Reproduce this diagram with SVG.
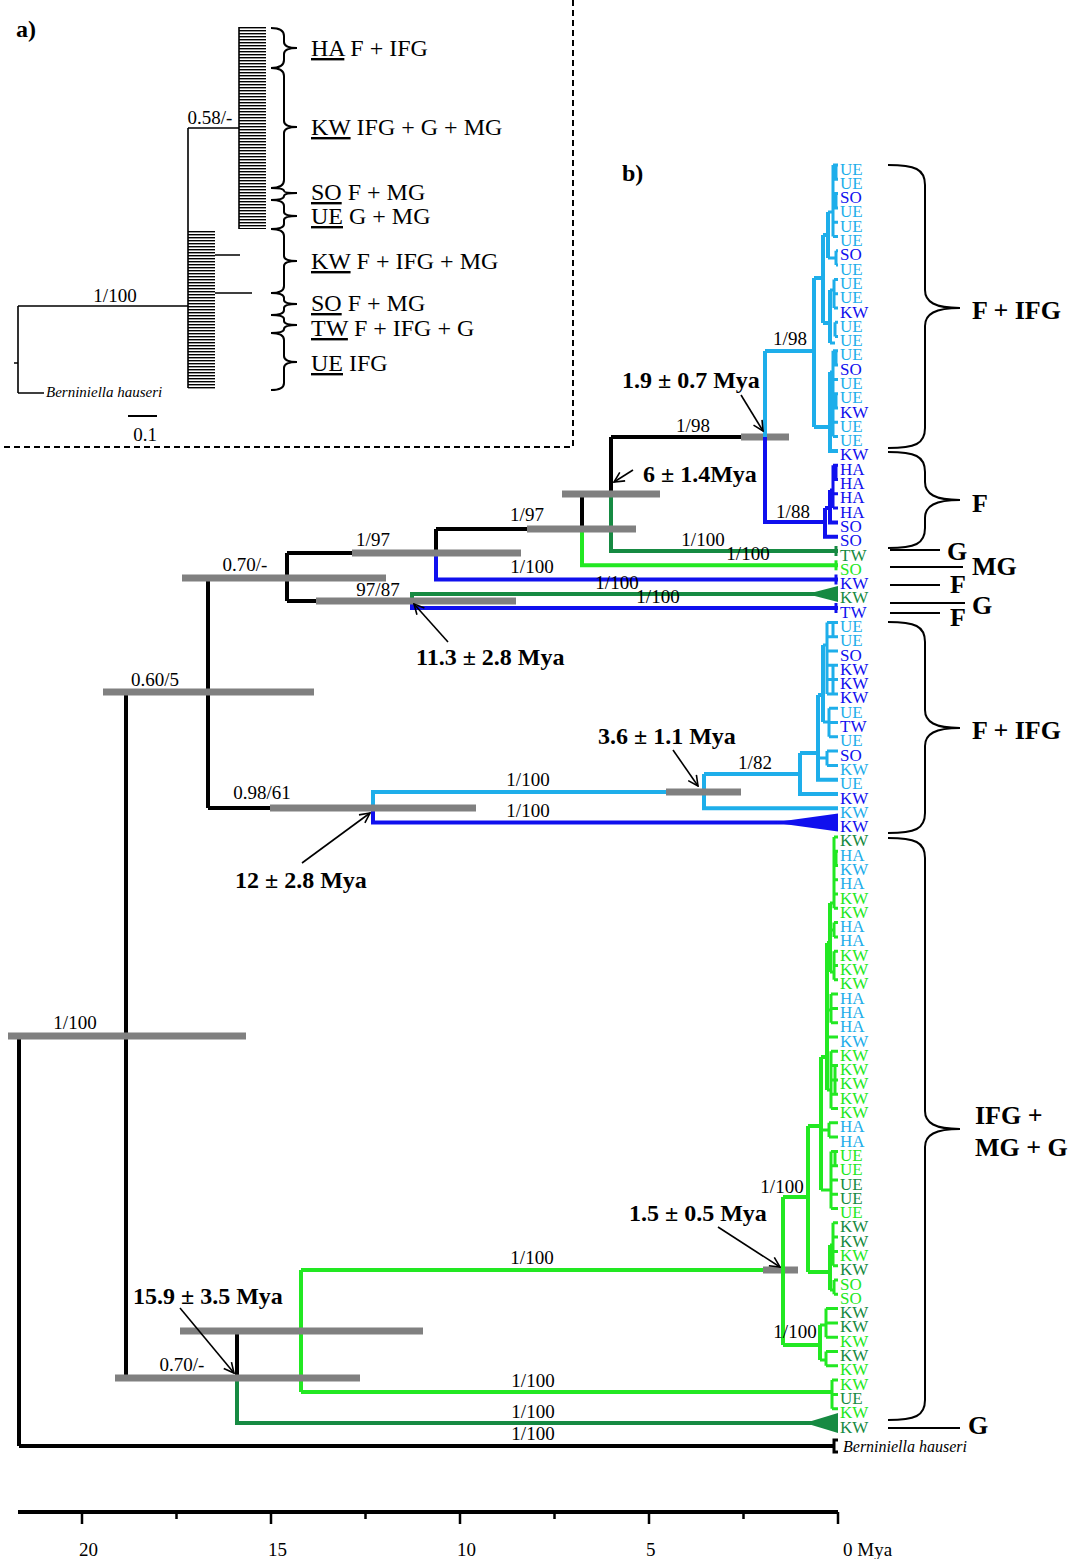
<svg xmlns="http://www.w3.org/2000/svg" width="1072" height="1559" viewBox="0 0 1072 1559">
<defs>
<style>
.br{fill:none;stroke-width:4}
.fn{fill:none;stroke-width:3}
.k{stroke:#000}.lb{stroke:#1eaeea}.bl{stroke:#1010ee}.dg{stroke:#168a42}.bg{stroke:#22e822}
.bar{stroke:#808080;stroke-width:7;fill:none}
.thin{fill:none;stroke:#000;stroke-width:1.6}
.brace{fill:none;stroke:#000;stroke-width:2}
.s{font-family:"Liberation Serif",serif;font-size:19px;text-anchor:middle;fill:#000}
.ax{font-family:"Liberation Serif",serif;font-size:19px;fill:#000}
.tip{font-family:"Liberation Serif",serif;font-size:17px}
.d{font-family:"Liberation Serif",serif;font-size:24px;font-weight:bold;fill:#000}
.g{font-family:"Liberation Serif",serif;font-size:26px;font-weight:bold;fill:#000}
.pa{font-family:"Liberation Serif",serif;font-size:24px;fill:#000}
.it{font-family:"Liberation Serif",serif;font-size:15px;font-style:italic;fill:#000}
.fl{fill:#1eaeea}.fb{fill:#1010ee}.fd{fill:#168a42}.fg{fill:#22e822}
.arr{fill:none;stroke:#000;stroke-width:1.6}
</style>
<pattern id="comb" width="4" height="3" patternUnits="userSpaceOnUse"><rect width="4" height="1.4" fill="#000"/></pattern>
<marker id="ah" viewBox="0 0 12 12" refX="11" refY="6" markerWidth="12" markerHeight="12" markerUnits="userSpaceOnUse" orient="auto"><path d="M1,1 L11,6 L1,11" fill="none" stroke="#000" stroke-width="1.6"/></marker>
</defs>
<rect width="1072" height="1559" fill="#fff"/>

<!-- Panel a -->
<g id="panel-a">
<path d="M573,0 V447 H0" fill="none" stroke="#000" stroke-width="2" stroke-dasharray="6 4"/>
<text class="d" x="16" y="37">a)</text>
<path class="thin" d="M14,363 H18 M18,306 V393 M18,306 H188 M18,393 H44 M188,128 V388 M188,128 H239 M215,255 H240 M215,293 H252"/>
<rect x="239" y="27" width="27" height="202" fill="url(#comb)"/>
<path class="thin" d="M239,27 V229"/>
<rect x="188" y="231" width="27" height="158" fill="url(#comb)"/>
<text class="s" x="115" y="302">1/100</text>
<text class="s" x="210" y="124">0.58/-</text>
<text class="it" x="46" y="397">Berniniella hauseri</text>
<path d="M128,416 H157" stroke="#000" stroke-width="2"/>
<text class="s" x="145" y="441">0.1</text>
<g id="a-braces">
<path class="brace" d="M271,28 Q284,28 284,36 L284,42 Q284,48 297,48 Q284,48 284,54 L284,60 Q284,68 271,68"/>
<path class="brace" d="M271,68 Q284,68 284,76 L284,121 Q284,127 297,127 Q284,127 284,133 L284,180 Q284,188 271,188"/>
<path class="brace" d="M271,188 Q284,188 284,191 Q284,193 297,193 Q284,193 284,196 Q284,200 271,200"/>
<path class="brace" d="M271,200 Q284,200 284,206 L284,212 Q284,216 297,216 Q284,216 284,220 L284,224 Q284,229 271,229"/>
<path class="brace" d="M271,229 Q284,229 284,236 L284,256 Q284,261 297,261 Q284,261 284,266 L284,286 Q284,293 271,293"/>
<path class="brace" d="M271,293 Q284,293 284,298 L284,300 Q284,304 297,304 Q284,304 284,308 L284,310 Q284,315 271,315"/>
<path class="brace" d="M271,315 Q284,315 284,319 L284,321 Q284,325 297,325 Q284,325 284,329 Q284,333 271,333"/>
<path class="brace" d="M271,333 Q284,333 284,340 L284,356 Q284,362 297,362 Q284,362 284,368 L284,383 Q284,390 271,390"/>
</g>
<text class="pa" x="311" y="56"><tspan text-decoration="underline">HA</tspan> F + IFG</text>
<text class="pa" x="311" y="135"><tspan text-decoration="underline">KW</tspan> IFG + G + MG</text>
<text class="pa" x="311" y="200"><tspan text-decoration="underline">SO</tspan> F + MG</text>
<text class="pa" x="311" y="224"><tspan text-decoration="underline">UE</tspan> G + MG</text>
<text class="pa" x="311" y="269"><tspan text-decoration="underline">KW</tspan> F + IFG + MG</text>
<text class="pa" x="311" y="311"><tspan text-decoration="underline">SO</tspan> F + MG</text>
<text class="pa" x="311" y="336"><tspan text-decoration="underline">TW</tspan> F + IFG + G</text>
<text class="pa" x="311" y="371"><tspan text-decoration="underline">UE</tspan> IFG</text>
</g>

<text class="d" x="622" y="181">b)</text>

<!-- Connectors -->
<g id="connectors">
<path class="br k" d="M19,1036 V1446 M19,1036 H126 M19,1446 H834 M126,692 V1378 M126,692 H208 M126,1378 H237 M208,578 V808 M208,578 H287 M208,808 H373 M287,553 V601 M287,553 H436 M287,601 H412 M436,529 V553 M436,529 H582 M582,494 V529 M582,494 H611 M611,437 V494 M611,437 H765 M237,1331 V1378 M237,1331 H301"/>
<path class="fn k" d="M838,1440 H834 V1452 H838"/>
<!-- top F+IFG clade -->
<path class="br lb" d="M765,351 V437 M765,351 H814 M814,278 V427 M814,278 H823 M823,235 V323 M823,235 H828 M828,212 V258 M823,323 H830 M830,290 V343 M814,427 H830 M830,372 V450.9 H838"/>
<path class="fn lb" d="M828,212 H833 M833,165 V236.5 M833,165 H838 M833,179.3 H838 M833,193.6 H838 M833,207.9 H838 M833,222.2 H838 M833,236.5 H838 M836,165 V179.3 M836,193.6 V207.9 M828,258 H836 M836,250.8 V265.1 M836,250.8 H838 M836,265.1 H838 M830,290 H834 M834,279.4 V308 M834,279.4 H838 M834,293.7 H838 M834,308 H838 M830,343 H835 M835,322.2 V336.5 M835,322.2 H838 M835,336.5 H838 M830,372 H833 M833,350.8 V436.6 M833,350.8 H838 M833,365.1 H838 M833,379.4 H838 M833,393.7 H838 M833,408 H838 M833,422.3 H838 M833,436.6 H838 M836,350.8 V365.1 M836,393.7 V408"/>
<!-- F clade -->
<path class="br bl" d="M765,437 V522 H825 M825,508 V536.7 H838 M825,508 H830 M830,490 V522.4 H838"/>
<path class="fn bl" d="M830,490 H833 M833,465.2 V508.1 M833,465.2 H838 M833,479.5 H838 M833,493.8 H838 M833,508.1 H838 M836,465.2 V479.5"/>
<!-- singles -->
<path class="br dg" d="M611,494 V551 H838"/>
<path class="br bg" d="M582,529 V565.3 H838"/>
<path class="br bl" d="M436,553 V579.6 H838"/>
<path class="br dg" d="M412,601 V593.9 H838"/>
<polygon class="fd" points="807,593.9 838,586 838,602"/>
<path class="br bl" d="M412,601 V608.1 H838"/>
<path class="fn dg" d="M836,546 V556"/>
<path class="fn bg" d="M836,560.3 V570.3"/>
<path class="fn bl" d="M836,574.6 V584.6 M836,603.1 V613.1"/>
<!-- second F+IFG clade -->
<path class="br lb" d="M373,808 V792 H704 M704,774 V808.3 H838 M704,774 H800 M800,753 V794 H838 M800,753 H818 M818,695 V779.7 H838 M818,695 H823 M823,645 V722"/>
<path class="fn lb" d="M818,758 H827 M827,751.1 V765.4 M827,751.1 H838 M827,765.4 H838 M823,722 H829 M829,708.2 V736.8 M829,708.2 H838 M829,722.5 H838 M829,736.8 H838 M823,645 H827 M827,622.4 V693.9 M827,622.4 H838 M827,636.7 H838 M827,651 H838 M827,665.3 H838 M827,679.6 H838 M827,693.9 H838 M833,622.4 V636.7 M833,665.3 V693.9"/>
<path class="br bl" d="M373,808 V822.6 H838"/>
<polygon class="fb" points="773,822.6 838,813.5 838,831.5"/>
<!-- IFG + MG + G clade -->
<path class="br bg" d="M301,1270 V1392 M301,1270 H783 M301,1392 H832 M783,1197 V1345 M783,1197 H808 M808,1126 V1272 M808,1272 H830 M830,1245 V1290 M808,1126 H821 M821,1057 V1190 M821,1057 H827 M827,943 V1090 M827,943 H830 M830,903 V972 M783,1345 H820 M820,1325 V1360"/>
<path class="fn bg" d="M832,1380.1 V1408.7 M832,1380.1 H838 M832,1394.4 H838 M832,1408.7 H838 M830,1245 H833 M833,1222.8 V1265.7 M833,1222.8 H838 M833,1237.1 H838 M833,1251.4 H838 M833,1265.7 H838 M830,1290 H834 M834,1280 V1294.3 M834,1280 H838 M834,1294.3 H838 M821,1190 H831 M831,1151.4 V1208.5 M831,1151.4 H838 M831,1165.7 H838 M831,1180 H838 M831,1194.2 H838 M831,1208.5 H838 M835,1151.4 V1165.7 M821,1130 H829 M829,1122.8 V1137.1 M829,1122.8 H838 M829,1137.1 H838 M827,1090 H831 M831,1051.3 V1108.5 M831,1051.3 H838 M831,1065.6 H838 M831,1079.9 H838 M831,1094.2 H838 M831,1108.5 H838 M835,1065.6 V1094.2 M827,1037 H838 M827,1010 H831 M831,994.1 V1022.7 M831,994.1 H838 M831,1008.4 H838 M831,1022.7 H838 M830,972 H834 M834,951.2 V979.8 M834,951.2 H838 M834,965.5 H838 M834,979.8 H838 M830,930 H834 M834,922.6 V936.9 M834,922.6 H838 M834,936.9 H838 M830,903 H834 M834,836.9 V908.3 M834,836.9 H838 M834,851.2 H838 M834,865.5 H838 M834,879.8 H838 M834,894.1 H838 M834,908.3 H838 M836,851.2 V865.5 M820,1325 H826 M826,1308.6 V1337.2 M826,1308.6 H838 M826,1322.9 H838 M826,1337.2 H838 M820,1360 H826 M826,1351.5 V1365.8 M826,1351.5 H838 M826,1365.8 H838"/>
<path class="br dg" d="M237,1378 V1423 H838"/>
<polygon class="fd" points="805,1423 838,1413 838,1433"/>
</g>

<!-- node age bars -->
<g id="bars">
<path class="bar" d="M8,1036 H246 M103,692 H314 M182,578 H386 M352,553 H521 M316,601 H516 M527,529 H636 M562,494 H660 M741,437 H789 M270,808 H476 M666,792 H741 M115,1378 H360 M180,1331 H423 M763,1270 H798"/>
<path class="br lb" d="M765,428 V437"/>
<path class="br bl" d="M765,437 V446"/>
<path class="br bg" d="M783,1262 V1278"/>
</g>

<!-- support values -->
<g id="supports">
<text class="s" x="75" y="1029">1/100</text>
<text class="s" x="155" y="686">0.60/5</text>
<text class="s" x="245" y="571">0.70/-</text>
<text class="s" x="373" y="546">1/97</text>
<text class="s" x="378" y="596">97/87</text>
<text class="s" x="527" y="521">1/97</text>
<text class="s" x="532" y="573">1/100</text>
<text class="s" x="693" y="432">1/98</text>
<text class="s" x="703" y="546">1/100</text>
<text class="s" x="748" y="560">1/100</text>
<text class="s" x="617" y="589">1/100</text>
<text class="s" x="658" y="603">1/100</text>
<text class="s" x="790" y="345">1/98</text>
<text class="s" x="793" y="518">1/88</text>
<text class="s" x="262" y="799">0.98/61</text>
<text class="s" x="528" y="786">1/100</text>
<text class="s" x="528" y="817">1/100</text>
<text class="s" x="755" y="769">1/82</text>
<text class="s" x="532" y="1264">1/100</text>
<text class="s" x="533" y="1387">1/100</text>
<text class="s" x="533" y="1418">1/100</text>
<text class="s" x="533" y="1440">1/100</text>
<text class="s" x="782" y="1193">1/100</text>
<text class="s" x="795" y="1338">1/100</text>
<text class="s" x="182" y="1371">0.70/-</text>
</g>

<!-- date annotations -->
<g id="dates">
<text class="d" x="622" y="388">1.9 ± 0.7 Mya</text>
<path class="arr" d="M741,395 L763,431" marker-end="url(#ah)"/>
<text class="d" x="643" y="482">6 ± 1.4Mya</text>
<path class="arr" d="M633,470 L614,482" marker-end="url(#ah)"/>
<text class="d" x="416" y="665">11.3 ± 2.8 Mya</text>
<path class="arr" d="M448,642 L414,604" marker-end="url(#ah)"/>
<text class="d" x="235" y="888">12 ± 2.8 Mya</text>
<path class="arr" d="M302,863 L370,813" marker-end="url(#ah)"/>
<text class="d" x="598" y="744">3.6 ± 1.1 Mya</text>
<path class="arr" d="M673,750 L698,786" marker-end="url(#ah)"/>
<text class="d" x="629" y="1221">1.5 ± 0.5 Mya</text>
<path class="arr" d="M718,1227 L780,1267" marker-end="url(#ah)"/>
<text class="d" x="133" y="1304">15.9 ± 3.5 Mya</text>
<path class="arr" d="M180,1308 L234,1373" marker-end="url(#ah)"/>
</g>

<!-- tips -->
<g id="tips" class="tip">
<text x="840" y="174.5" class="fl">UE</text>
<text x="840" y="188.8" class="fl">UE</text>
<text x="840" y="203.1" class="fb">SO</text>
<text x="840" y="217.4" class="fl">UE</text>
<text x="840" y="231.7" class="fl">UE</text>
<text x="840" y="246.0" class="fl">UE</text>
<text x="840" y="260.3" class="fb">SO</text>
<text x="840" y="274.6" class="fl">UE</text>
<text x="840" y="288.9" class="fl">UE</text>
<text x="840" y="303.2" class="fl">UE</text>
<text x="840" y="317.5" class="fb">KW</text>
<text x="840" y="331.7" class="fl">UE</text>
<text x="840" y="346.0" class="fl">UE</text>
<text x="840" y="360.3" class="fl">UE</text>
<text x="840" y="374.6" class="fb">SO</text>
<text x="840" y="388.9" class="fl">UE</text>
<text x="840" y="403.2" class="fl">UE</text>
<text x="840" y="417.5" class="fb">KW</text>
<text x="840" y="431.8" class="fl">UE</text>
<text x="840" y="446.1" class="fl">UE</text>
<text x="840" y="460.4" class="fb">KW</text>
<text x="840" y="474.7" class="fb">HA</text>
<text x="840" y="489.0" class="fb">HA</text>
<text x="840" y="503.3" class="fb">HA</text>
<text x="840" y="517.6" class="fb">HA</text>
<text x="840" y="531.9" class="fb">SO</text>
<text x="840" y="546.2" class="fb">SO</text>
<text x="840" y="560.5" class="fd">TW</text>
<text x="840" y="574.8" class="fg">SO</text>
<text x="840" y="589.1" class="fb">KW</text>
<text x="840" y="603.4" class="fd">KW</text>
<text x="840" y="617.6" class="fb">TW</text>
<text x="840" y="631.9" class="fl">UE</text>
<text x="840" y="646.2" class="fl">UE</text>
<text x="840" y="660.5" class="fb">SO</text>
<text x="840" y="674.8" class="fb">KW</text>
<text x="840" y="689.1" class="fb">KW</text>
<text x="840" y="703.4" class="fb">KW</text>
<text x="840" y="717.7" class="fl">UE</text>
<text x="840" y="732.0" class="fb">TW</text>
<text x="840" y="746.3" class="fl">UE</text>
<text x="840" y="760.6" class="fb">SO</text>
<text x="840" y="774.9" class="fl">KW</text>
<text x="840" y="789.2" class="fl">UE</text>
<text x="840" y="803.5" class="fb">KW</text>
<text x="840" y="817.8" class="fl">KW</text>
<text x="840" y="832.1" class="fb">KW</text>
<text x="840" y="846.4" class="fd">KW</text>
<text x="840" y="860.7" class="fl">HA</text>
<text x="840" y="875.0" class="fl">KW</text>
<text x="840" y="889.3" class="fl">HA</text>
<text x="840" y="903.6" class="fg">KW</text>
<text x="840" y="917.8" class="fg">KW</text>
<text x="840" y="932.1" class="fl">HA</text>
<text x="840" y="946.4" class="fl">HA</text>
<text x="840" y="960.7" class="fg">KW</text>
<text x="840" y="975.0" class="fg">KW</text>
<text x="840" y="989.3" class="fg">KW</text>
<text x="840" y="1003.6" class="fl">HA</text>
<text x="840" y="1017.9" class="fl">HA</text>
<text x="840" y="1032.2" class="fl">HA</text>
<text x="840" y="1046.5" class="fl">KW</text>
<text x="840" y="1060.8" class="fg">KW</text>
<text x="840" y="1075.1" class="fg">KW</text>
<text x="840" y="1089.4" class="fg">KW</text>
<text x="840" y="1103.7" class="fg">KW</text>
<text x="840" y="1118.0" class="fg">KW</text>
<text x="840" y="1132.3" class="fl">HA</text>
<text x="840" y="1146.6" class="fl">HA</text>
<text x="840" y="1160.9" class="fg">UE</text>
<text x="840" y="1175.2" class="fg">UE</text>
<text x="840" y="1189.5" class="fd">UE</text>
<text x="840" y="1203.7" class="fd">UE</text>
<text x="840" y="1218.0" class="fg">UE</text>
<text x="840" y="1232.3" class="fd">KW</text>
<text x="840" y="1246.6" class="fd">KW</text>
<text x="840" y="1260.9" class="fg">KW</text>
<text x="840" y="1275.2" class="fd">KW</text>
<text x="840" y="1289.5" class="fg">SO</text>
<text x="840" y="1303.8" class="fg">SO</text>
<text x="840" y="1318.1" class="fd">KW</text>
<text x="840" y="1332.4" class="fd">KW</text>
<text x="840" y="1346.7" class="fg">KW</text>
<text x="840" y="1361.0" class="fd">KW</text>
<text x="840" y="1375.3" class="fg">KW</text>
<text x="840" y="1389.6" class="fg">KW</text>
<text x="840" y="1403.9" class="fd">UE</text>
<text x="840" y="1418.2" class="fg">KW</text>
<text x="840" y="1432.5" class="fd">KW</text>
</g>
<text class="it" x="843" y="1452" style="font-size:16px">Berniniella hauseri</text>

<!-- clade brackets -->
<g id="groups">
<path class="brace" d="M888,165 C915,165 925,169 925,185 L925,290 C925,302 935,308 960,308 C935,308 925,314 925,326 L925,428 C925,444 915,448 888,448"/>
<text class="g" x="972" y="319">F + IFG</text>
<path class="brace" d="M888,452 C915,452 925,456 925,472 L925,482 C925,494 935,500 960,500 C935,500 925,506 925,518 L925,528 C925,544 915,548 888,548"/>
<text class="g" x="972" y="512">F</text>
<path class="brace" d="M890,550 H940 M890,567 H963 M890,585 H940 M890,603 H965 M890,613 H940"/>
<text class="g" x="947" y="560">G</text>
<text class="g" x="972" y="575">MG</text>
<text class="g" x="950" y="593">F</text>
<text class="g" x="972" y="614">G</text>
<text class="g" x="950" y="626">F</text>
<path class="brace" d="M888,622 C915,622 925,626 925,642 L925,710 C925,722 935,728 960,728 C935,728 925,734 925,746 L925,813 C925,829 915,833 888,833"/>
<text class="g" x="972" y="739">F + IFG</text>
<path class="brace" d="M888,838 C915,838 925,842 925,858 L925,1111 C925,1123 935,1129 960,1129 C935,1129 925,1135 925,1147 L925,1400 C925,1416 915,1420 888,1420"/>
<text class="g" x="975" y="1124">IFG +</text>
<text class="g" x="975" y="1156">MG + G</text>
<path class="brace" d="M888,1428 H960"/>
<text class="g" x="968" y="1434">G</text>
</g>

<!-- time axis -->
<g id="axis">
<path d="M18,1512 H838" stroke="#000" stroke-width="4"/>
<path d="M82,1512 V1524 M271,1512 V1524 M460,1512 V1524 M649,1512 V1524 M838,1512 V1524 M176.5,1512 V1519 M365.5,1512 V1519 M554.5,1512 V1519 M743.5,1512 V1519" stroke="#000" stroke-width="2.5"/>
<text class="ax" x="79" y="1556">20</text>
<text class="ax" x="268" y="1556">15</text>
<text class="ax" x="457" y="1556">10</text>
<text class="ax" x="646" y="1556">5</text>
<text class="ax" x="843" y="1556">0 Mya</text>
</g>
</svg>
